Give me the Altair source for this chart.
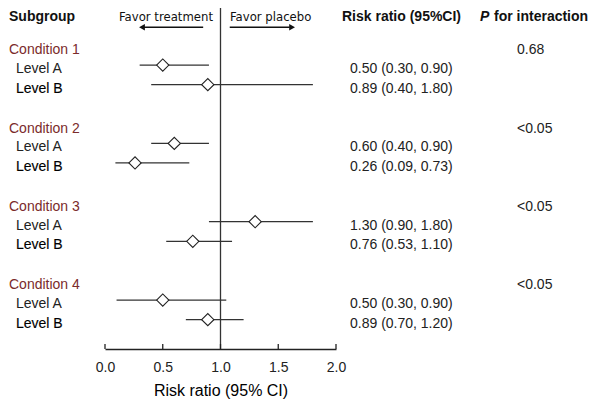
import altair as alt
import pandas as pd

# ---- data ----
conditions = ["Condition 1", "Condition 2", "Condition 3", "Condition 4"]
p_interaction = ["0.68", "<0.05", "<0.05", "<0.05"]
levels = ["Level A", "Level B"]
rr = [0.50, 0.89, 0.60, 0.26, 1.30, 0.76, 0.50, 0.89]
lo = [0.30, 0.40, 0.40, 0.09, 0.90, 0.53, 0.10, 0.70]
hi = [0.90, 1.80, 0.90, 0.73, 1.80, 1.10, 1.05, 1.20]
rr_text = ["0.50 (0.30, 0.90)", "0.89 (0.40, 1.80)",
           "0.60 (0.40, 0.90)", "0.26 (0.09, 0.73)",
           "1.30 (0.90, 1.80)", "0.76 (0.53, 1.10)",
           "0.50 (0.30, 0.90)", "0.89 (0.70, 1.20)"]
x_ticks = [0.0, 0.5, 1.0, 1.5, 2.0]

# ---- tables ----
cond_df = pd.DataFrame({
    "label": conditions,
    "p": p_interaction,
    "row": [4 * k for k in range(len(conditions))],
})
lev_rows = []
for k in range(len(conditions)):
    for j, lv in enumerate(levels):
        i = 2 * k + j
        lev_rows.append({"label": lv, "bold": j == 1, "row": 4 * k + 0.75 + j,
                         "rr": rr[i], "lo": lo[i], "hi": hi[i], "txt": rr_text[i]})
lev_df = pd.DataFrame(lev_rows)
tick_df = pd.DataFrame({"t": x_ticks})

W, H = 231, 341
FONT = "Liberation Sans"
x_scale = alt.Scale(domain=[0, 2], nice=False, zero=False)
y_scale = alt.Scale(domain=[-2.163, 15.25], reverse=True, nice=False, zero=False)
y_head = -1.68
y_arrow = -1.18

base_lev = alt.Chart(lev_df)
hdr = pd.DataFrame({"a": [0]})

x_axis = alt.Axis(values=x_ticks, format=".1f", ticks=False, grid=False,
                  domainColor="#222", domainWidth=1.5, labelFont=FONT,
                  labelFontSize=14, labelColor="#222", labelPadding=11,
                  labelFlush=False, title="Risk ratio (95% CI)", titleFont=FONT,
                  titleFontSize=16, titleFontWeight="normal", titleColor="#000",
                  titlePadding=8)

ci = base_lev.mark_rule(color="#333", strokeWidth=1.2).encode(
    x=alt.X("lo:Q", scale=x_scale, axis=x_axis),
    x2="hi:Q",
    y=alt.Y("row:Q", scale=y_scale, axis=None),
)
vline = alt.Chart(hdr).mark_rule(color="#333", strokeWidth=1.3).encode(
    x=alt.datum(1.0)
)
ticks = alt.Chart(tick_df).mark_rule(color="#222", strokeWidth=1.3).encode(
    x="t:Q", y=alt.value(H), y2=alt.value(H - 5)
)
pts = base_lev.mark_point(shape="diamond", filled=True, fill="white",
                          stroke="#222", strokeWidth=1.1, size=150,
                          opacity=1).encode(x="rr:Q", y="row:Q")

cond_txt = alt.Chart(cond_df).mark_text(align="left", baseline="middle",
                                        font=FONT, fontSize=14,
                                        color="#7b2b2b").encode(
    x=alt.value(-96), y="row:Q", text="label:N")
p_txt = alt.Chart(cond_df).mark_text(align="left", baseline="middle",
                                     font=FONT, fontSize=14,
                                     color="#222").encode(
    x=alt.value(412), y="row:Q", text="p:N")
levA_txt = alt.Chart(lev_df).transform_filter("!datum.bold").mark_text(
    align="left", baseline="middle", font=FONT, fontSize=14, color="#222",
    dy=4).encode(x=alt.value(-89), y="row:Q", text="label:N")
levB_txt = alt.Chart(lev_df).transform_filter("datum.bold").mark_text(
    align="left", baseline="middle", font=FONT, fontSize=14,
    color="#000", stroke="#000", strokeWidth=0.15, dy=4).encode(
    x=alt.value(-89), y="row:Q", text="label:N")
rr_txt = base_lev.mark_text(align="left", baseline="middle", font=FONT,
                            fontSize=14, color="#222", dy=4).encode(
    x=alt.value(245), y="row:Q", text="txt:N")


def header(text, x, **kw):
    return alt.Chart(hdr).mark_text(baseline="middle", font=FONT, fontSize=14,
                                    fontWeight="bold", color="#111",
                                    **kw).encode(
        x=alt.value(x), y=alt.datum(y_head), text=alt.value(text))

h1 = header("Subgroup", -96, align="left")
h2 = header("Risk ratio (95%CI)", 237, align="left")
h3 = header("P", 375, align="left", fontStyle="italic")
h4 = header("for interaction", 389, align="left")

fav_l = alt.Chart(hdr).mark_text(align="right", baseline="middle",
                                 font="DejaVu Sans", fontSize=11.7,
                                 color="#111").encode(
    x=alt.datum(0.935), y=alt.datum(y_head), text=alt.value("Favor treatment"))
fav_r = alt.Chart(hdr).mark_text(align="left", baseline="middle",
                                 font="DejaVu Sans", fontSize=11.7,
                                 color="#111").encode(
    x=alt.datum(1.082), y=alt.datum(y_head), text=alt.value("Favor placebo"))

arrow_df = pd.DataFrame({"x1": [0.85, 1.08], "x2": [0.33, 1.60]})
arrow_lines = alt.Chart(arrow_df).mark_rule(color="#111", strokeWidth=1.3).encode(
    x="x1:Q", x2="x2:Q", y=alt.datum(y_arrow))
head_l = alt.Chart(hdr).mark_point(shape="triangle-left", filled=True,
                                   color="#111", size=45, opacity=1).encode(
    x=alt.datum(0.32), y=alt.datum(y_arrow))
head_r = alt.Chart(hdr).mark_point(shape="triangle-right", filled=True,
                                   color="#111", size=45, opacity=1).encode(
    x=alt.datum(1.62), y=alt.datum(y_arrow))

chart = alt.layer(
    ci, vline, ticks, pts, cond_txt, p_txt, levA_txt, levB_txt, rr_txt,
    h1, h2, h3, h4, fav_l, fav_r, arrow_lines, head_l, head_r
).properties(
    width=W, height=H,
    autosize=alt.AutoSizeParams(type="none"),
    padding={"left": 97, "top": 0, "right": 256, "bottom": 55},
).configure(background="white").configure_view(stroke=None)

chart.save("out.html", embed_options={"renderer": "svg", "actions": False})
